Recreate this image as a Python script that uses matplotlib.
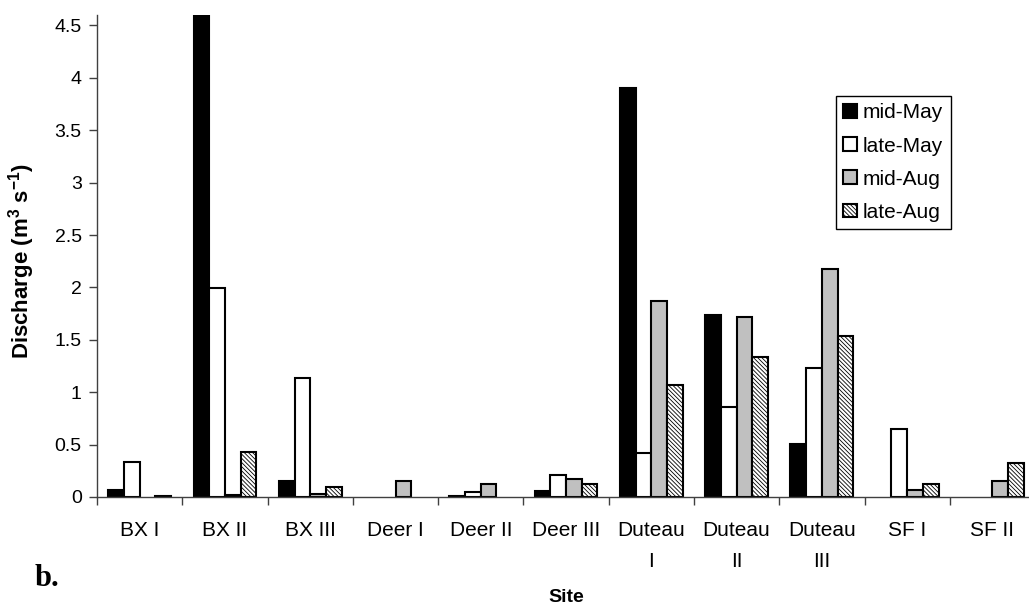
import numpy as np
import matplotlib
matplotlib.use('Agg')
import matplotlib.pyplot as plt

plt.rcParams['font.family'] = ['Liberation Sans', 'DejaVu Sans']
plt.rcParams['mathtext.default'] = 'regular'
plt.rcParams['hatch.linewidth'] = 0.6

# discharge per site for each sampling period (nan = not measured)
sites = ['BX I', 'BX II', 'BX III', 'Deer I', 'Deer II', 'Deer III',
         'Duteau\nI', 'Duteau\nII', 'Duteau\nIII', 'SF I', 'SF II']
nan = np.nan
mid_may = [0.07, 4.6, 0.15, nan, 0.01, 0.06, 3.90, 1.74, 0.51, nan, nan]
late_may = [0.33, 1.99, 1.14, nan, 0.05, 0.21, 0.42, 0.86, 1.23, 0.65, nan]
mid_aug = [nan, 0.02, 0.03, 0.15, 0.12, 0.17, 1.87, 1.72, 2.18, 0.07, 0.15]
late_aug = [0.01, 0.43, 0.10, nan, nan, 0.12, 1.07, 1.34, 1.54, 0.12, 0.32]

series = [('mid-May', mid_may), ('late-May', late_may),
          ('mid-Aug', mid_aug), ('late-Aug', late_aug)]
faces = ['black', 'white', '#c0c0c0', 'white']
hatches = [None, None, None, '\\' * 8]

fig = plt.figure(figsize=(10.29, 6.08), dpi=100)
ax = fig.add_axes([0.0943, 0.1826, 0.9116, 0.7927])

x = np.arange(len(sites))
w = 0.184
for i, (name, vals) in enumerate(series):
    ax.bar(x + (i - 1.5) * w, vals, w, color=faces[i], edgecolor='black',
           linewidth=1.5, hatch=hatches[i], label=name)

ax.set_xlim(-0.5, len(sites) - 0.5)
ax.set_ylim(0, 4.6)
ax.set_yticks(np.arange(0, 4.51, 0.5))
ax.set_yticklabels(['0', '0.5', '1', '1.5', '2', '2.5', '3', '3.5', '4', '4.5'])

# ticks between categories, labels at the centres
ax.set_xticks(np.arange(-0.5, len(sites), 1))
ax.set_xticklabels([])
ax.set_xticks(x, minor=True)
ax.set_xticklabels(sites, minor=True, linespacing=1.8, va='top')
ax.tick_params(axis='x', which='minor', length=0, pad=17, labelsize=15)
ax.tick_params(axis='x', which='major', length=6, width=1, color='0.25')
ax.tick_params(axis='y', length=6, width=1, color='0.25', labelsize=14, pad=5)

for s in ['top', 'right']:
    ax.spines[s].set_visible(False)
for s in ['left', 'bottom']:
    ax.spines[s].set_color('0.25')
    ax.spines[s].set_linewidth(1)

fig.text(0.0205, 0.571, 'Discharge (m$^{3}$ s$^{-1}$)', rotation=90,
         ha='center', va='center', fontsize=16, fontweight='bold')
fig.text(0.55, 0.004, 'Site', ha='center', va='bottom', fontsize=14,
         fontweight='bold')
fig.text(0.034, 0.037, 'b.', fontsize=22, fontweight='bold',
         family=['Liberation Serif', 'DejaVu Serif'])

leg = ax.legend(loc='upper left', bbox_to_anchor=(0.8124, 0.842),
                bbox_transform=fig.transFigure, borderaxespad=0,
                fancybox=False, framealpha=1, edgecolor='black',
                fontsize=15, handlelength=0.65, handleheight=0.65,
                handletextpad=0.3, labelspacing=0.68, borderpad=0.35)
leg.get_frame().set_linewidth(1)

fig.savefig('out.png', dpi=100)
